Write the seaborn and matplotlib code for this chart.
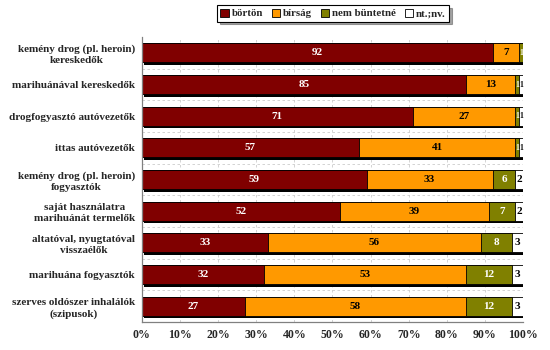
import matplotlib
matplotlib.use("Agg")
import matplotlib.pyplot as plt
import matplotlib.patheffects as pe
from matplotlib.patches import Patch
import numpy as np
import pandas as pd
import seaborn as sns

categories = [
    "kemény drog (pl. heroin)\nkereskedők",
    "marihuánával kereskedők",
    "drogfogyasztó autóvezetők",
    "ittas autóvezetők",
    "kemény drog (pl. heroin)\nfogyasztók",
    "saját használatra\nmarihuánát termelők",
    "altatóval, nyugtatóval\nvisszaélők",
    "marihuána fogyasztók",
    "szerves oldószer inhalálók\n(szipusok)",
]
series_names = ["börtön", "bírság", "nem büntetné", "nt.;nv."]
borton = [92, 85, 71, 57, 59, 52, 33, 32, 27]
birsag = [7, 13, 27, 41, 33, 39, 56, 53, 58]
nem_buntetne = [1, 1, 1, 1, 6, 7, 8, 12, 12]
ntnv = [0, 1, 1, 1, 2, 2, 3, 3, 3]
tick_labels = ["0%", "10%", "20%", "30%", "40%", "50%", "60%", "70%", "80%", "90%", "100%"]

colors = ["#800000", "#FF9900", "#808000", "#FFFFFF"]
text_colors = ["white", "black", "white", "black"]

sns.set_theme(style="white")
plt.rcParams["font.family"] = ["Liberation Serif", "DejaVu Serif"]
plt.rcParams["font.weight"] = "bold"

values = np.array([borton, birsag, nem_buntetne, ntnv], dtype=float)
cum = np.cumsum(values, axis=0)

fig = plt.figure(figsize=(5.5, 3.5), dpi=100)
ax = fig.add_axes([0.258, 0.08, 0.693, 0.814])

# stacked bars: draw cumulative totals from the outermost layer inwards
for i in range(3, -1, -1):
    df = pd.DataFrame({"cat": categories, "val": cum[i]})
    sns.barplot(data=df, x="val", y="cat", orient="h", color=colors[i],
                saturation=1, width=0.6, edgecolor="black", linewidth=0.6,
                ax=ax)
    if i == 3:
        for bar in ax.patches:
            bar.set_path_effects([
                pe.SimplePatchShadow(offset=(1.8, -1.8), shadow_rgbFace="black", alpha=1.0),
                pe.Normal(),
            ])

# value labels centred in each segment; tiny segments get a smaller digit
for i in range(4):
    lefts = cum[i] - values[i]
    for j, v in enumerate(values[i]):
        if v <= 0:
            continue
        size = 8 if v >= 2 else 5.5
        ax.text(lefts[j] + v / 2, j, f"{int(v)}", ha="center", va="center",
                color=text_colors[i], fontsize=size, fontweight="bold", zorder=5)

ax.set_xlim(0, 100)
ax.set_ylim(len(categories) - 0.5, -0.5)
ax.set_xticks(np.arange(0, 101, 10))
ax.set_xticklabels(tick_labels, fontsize=8.5, fontweight="bold")
ax.set_yticks(range(len(categories)))
ax.set_yticklabels(categories, fontsize=8, fontweight="bold", linespacing=1.3)
for lbl in ax.get_yticklabels():
    lbl.set_multialignment("center")
ax.set_yticks(np.arange(0.5, len(categories), 1), minor=True)
ax.set_xlabel("")
ax.set_ylabel("")

ax.tick_params(axis="y", which="major", length=0, pad=5)
ax.tick_params(axis="y", which="minor", length=4, width=0.8, color="#808080", direction="out")
ax.tick_params(axis="x", which="major", length=4, width=0.8, color="#808080",
               direction="inout", pad=3)

ax.grid(False)
ax.xaxis.grid(True, which="major", linestyle=(0, (3, 3)), color="#CCCCCC", linewidth=0.6)
ax.yaxis.grid(True, which="minor", linestyle=(0, (3, 3)), color="#CCCCCC", linewidth=0.6)
ax.set_axisbelow(True)

for side in ["top", "right"]:
    ax.spines[side].set_visible(False)
for side in ["left", "bottom"]:
    ax.spines[side].set_color("#808080")
    ax.spines[side].set_linewidth(0.9)

handles = [Patch(facecolor=c, edgecolor="black", linewidth=0.6) for c in colors]
leg = fig.legend(handles, series_names, loc="upper left", bbox_to_anchor=(0.385, 1.0),
                 ncol=4, frameon=True, fancybox=False, shadow=True,
                 handlelength=0.75, handleheight=0.75, handletextpad=0.3,
                 columnspacing=0.8, borderpad=0.3,
                 prop={"family": "Liberation Serif", "weight": "bold", "size": 7.8})
leg.get_frame().set_edgecolor("black")
leg.get_frame().set_linewidth(0.8)

fig.savefig("out.png", dpi=100)
